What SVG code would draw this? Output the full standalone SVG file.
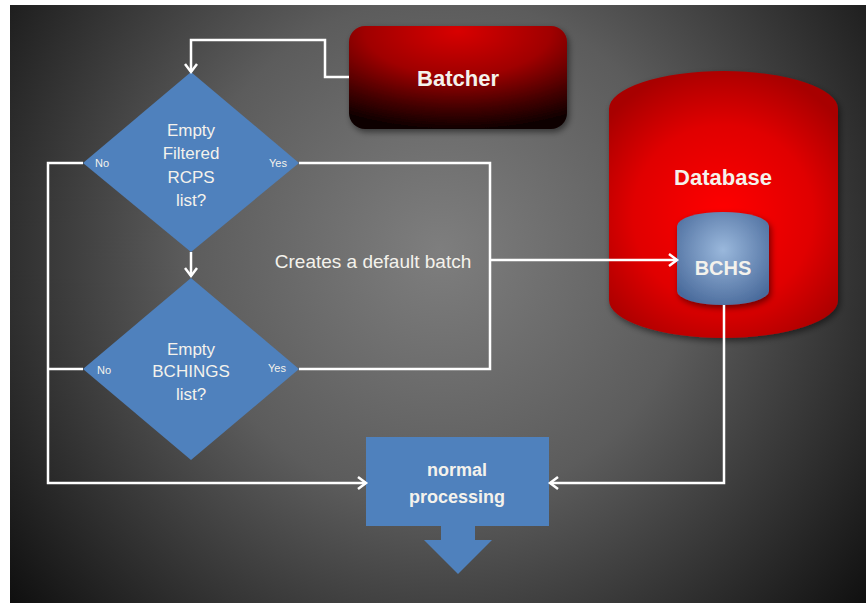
<svg xmlns="http://www.w3.org/2000/svg" width="868" height="605" viewBox="0 0 868 605">
<defs>
<radialGradient id="bg" gradientUnits="userSpaceOnUse" cx="440" cy="250" r="560">
<stop offset="0" stop-color="#7e7e7e"/>
<stop offset="0.45" stop-color="#5c5c5c"/>
<stop offset="1" stop-color="#0e0e0e"/>
</radialGradient>
<radialGradient id="batch" cx="0.5" cy="0.05" r="0.95" fx="0.5" fy="0.05">
<stop offset="0" stop-color="#d80000"/>
<stop offset="0.45" stop-color="#a00000"/>
<stop offset="0.8" stop-color="#400000"/>
<stop offset="1" stop-color="#100000"/>
</radialGradient>
<radialGradient id="db" gradientUnits="userSpaceOnUse" cx="723" cy="215" r="150">
<stop offset="0" stop-color="#ff0000"/>
<stop offset="0.6" stop-color="#e00000"/>
<stop offset="1" stop-color="#a80000"/>
</radialGradient>
<radialGradient id="bchs" gradientUnits="userSpaceOnUse" cx="723" cy="250" r="60">
<stop offset="0" stop-color="#9ab8dc"/>
<stop offset="1" stop-color="#4a6b9c"/>
</radialGradient>
<marker id="ah" markerWidth="14" markerHeight="14" refX="11" refY="7" orient="auto" markerUnits="userSpaceOnUse">
<polyline points="3,1 11,7 3,13" fill="none" stroke="#ffffff" stroke-width="2.5"/>
</marker>
<filter id="sh" x="-10%" y="-10%" width="130%" height="130%">
<feDropShadow dx="2" dy="3" stdDeviation="3" flood-color="#000" flood-opacity="0.5"/>
</filter>
</defs>
<style>
.conn{fill:none;stroke:#ffffff;stroke-width:2.5}
.dia{fill:#4f81bd}
.t{font-family:"Liberation Sans",Arial,sans-serif;fill:#f4f2ec;text-anchor:middle}
.b{font-weight:bold}
.s{font-size:11px}
</style>
<rect x="0" y="0" width="868" height="605" fill="#ffffff"/>
<rect x="10" y="5" width="856" height="598" fill="url(#bg)"/>

<g id="batcher">
<rect x="349" y="26" width="218" height="103" rx="16" fill="url(#batch)" filter="url(#sh)"/>
<text class="t b" x="458" y="86" font-size="22">Batcher</text>
</g>

<g id="database">
<path d="M609,109 A114.5,38 0 0 1 838,109 L838,300 A114.5,38 0 0 1 609,300 Z" fill="url(#db)" filter="url(#sh)"/>
<text class="t b" x="723" y="185" font-size="22">Database</text>
</g>

<g id="bchs">
<path d="M677,226 A46,14 0 0 1 769,226 L769,291 A46,14 0 0 1 677,291 Z" fill="url(#bchs)" filter="url(#sh)"/>
<text class="t b" x="723" y="275" font-size="20">BCHS</text>
</g>

<g id="decision1">
<polygon class="dia" points="191,72 299,163 191,252 83,163"/>
<text class="t" font-size="17"><tspan x="191" y="136">Empty</tspan><tspan x="191" y="159">Filtered</tspan><tspan x="191" y="183">RCPS</tspan><tspan x="191" y="206">list?</tspan></text>
<text class="t s" x="102" y="167">No</text>
<text class="t s" x="278" y="167">Yes</text>
</g>

<g id="decision2">
<polygon class="dia" points="191,278 299,369 191,460 83,369"/>
<text class="t" font-size="17"><tspan x="191" y="355">Empty</tspan><tspan x="191" y="377">BCHINGS</tspan><tspan x="191" y="400">list?</tspan></text>
<text class="t s" x="104" y="374">No</text>
<text class="t s" x="277" y="372">Yes</text>
</g>

<g id="label-default">
<text class="t" x="373" y="268" font-size="19">Creates a default batch</text>
</g>

<g id="normal">
<rect x="366" y="437" width="183" height="89" fill="#4f81bd"/>
<polygon points="441,526 475,526 475,540 492,540 458,574 424,540 441,540" fill="#4f81bd"/>
<text class="t b" font-size="18"><tspan x="457" y="476">normal</tspan><tspan x="457" y="503">processing</tspan></text>
</g>

<g id="connectors">
<polyline class="conn" points="349,77 325,77 325,40 191,40 191,72" marker-end="url(#ah)"/>
<line class="conn" x1="191" y1="252" x2="191" y2="276" marker-end="url(#ah)"/>
<polyline class="conn" points="83,163 48,163 48,483 366,483" marker-end="url(#ah)"/>
<line class="conn" x1="83" y1="369" x2="48" y2="369"/>
<polyline class="conn" points="299,163 490,163 490,369 299,369"/>
<line class="conn" x1="490" y1="260" x2="677" y2="260" marker-end="url(#ah)"/>
<polyline class="conn" points="724,305 724,483 550,483" marker-end="url(#ah)"/>
</g>
</svg>
